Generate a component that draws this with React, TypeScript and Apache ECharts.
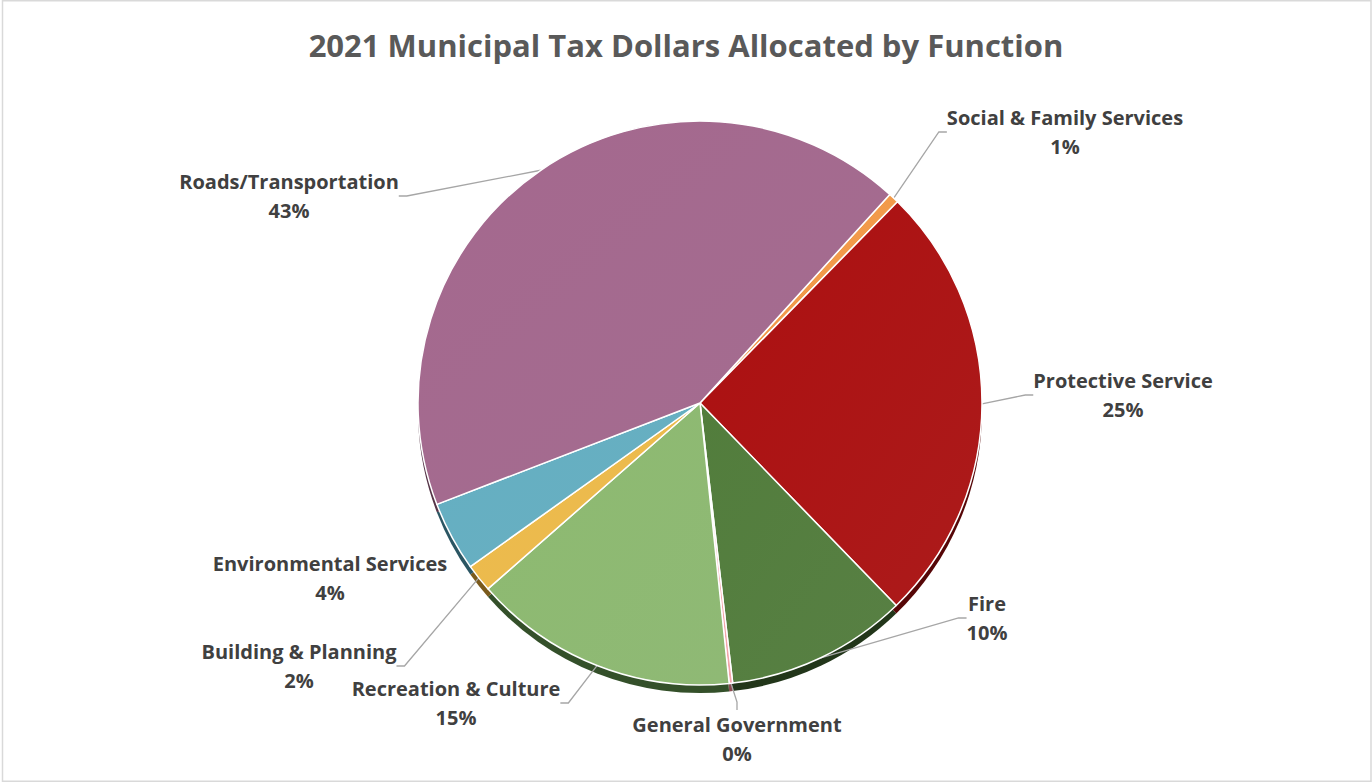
import { useEffect, useRef } from "react";
import * as echarts from "echarts";

const titleText = "2021 Municipal Tax Dollars Allocated by Function";

const categories = [
  "Social & Family Services",
  "Protective Service",
  "Fire",
  "General Government",
  "Recreation & Culture",
  "Building & Planning",
  "Environmental Services",
  "Roads/Transportation",
];

// share of tax dollars, percent
const shares = [0.6, 25.4, 10.4, 0.2, 15.2, 1.6, 4.0, 42.6];

// styles (kept apart from data)
const sliceColors = ["#ef9645", "#a80f10", "#507a3b", "#f2a0a6", "#8ab66e", "#e9b748", "#62abbe", "#a0668b"];
const rimColors = ["#8a5020", "#560607", "#22361a", "#8a4a50", "#34502a", "#7a5a1c", "#2b5663", "#553447"];
const labelCenters: Record<string, [number, number]> = {
  "Social & Family Services": [1065, 132],
  "Protective Service": [1123, 395],
  "Fire": [987, 618],
  "General Government": [737, 739],
  "Recreation & Culture": [456, 703],
  "Building & Planning": [299, 666],
  "Environmental Services": [330, 578],
  "Roads/Transportation": [289, 196],
};
const noLeader = new Set(["Environmental Services"]);

const FONT = "Open Sans";

export default function App() {
  const ref = useRef<HTMLDivElement>(null);
  useEffect(() => {
    document.body.style.margin = "0";
    if (!ref.current) return;
    const chart = echarts.init(ref.current, undefined, { renderer: "svg" });
    const mainData = categories.map((name, i) => ({
      name,
      value: shares[i],
      itemStyle: {
        color: new echarts.graphic.LinearGradient(0, 0, 1, 1, [
          { offset: 0, color: echarts.color.lift(sliceColors[i], -0.025) },
          { offset: 1, color: echarts.color.lift(sliceColors[i], 0.05) },
        ]),
      },
      labelLine: { show: !noLeader.has(name) },
    }));
    const rimData = categories.map((name, i) => ({
      name,
      value: shares[i],
      itemStyle: { color: rimColors[i] },
    }));
    chart.setOption({
      animation: false,
      backgroundColor: "#ffffff",
      title: {
        text: titleText,
        left: "center",
        top: 22,
        textStyle: {
          fontFamily: FONT,
          fontWeight: "bold",
          fontSize: 31,
          lineHeight: 36,
          color: "#595959",
        },
      },
      graphic: [
        {
          type: "rect",
          shape: { x: 2.5, y: 0.75, width: 1368.5, height: 780.5 },
          style: { fill: "none", stroke: "#d9d9d9", lineWidth: 1.5 },
          silent: true,
        },
      ],
      series: [
        {
          type: "pie",
          z: 1,
          silent: true,
          center: [700, 411],
          radius: 282,
          startAngle: 47.7,
          clockwise: true,
          data: rimData,
          label: { show: false },
          labelLine: { show: false },
          itemStyle: { borderWidth: 0 },
          emphasis: { disabled: true },
        },
        {
          type: "pie",
          z: 2,
          center: [700, 403],
          radius: 282,
          startAngle: 47.7,
          clockwise: true,
          avoidLabelOverlap: false,
          data: mainData,
          itemStyle: { borderColor: "#ffffff", borderWidth: 1.5 },
          emphasis: { disabled: true },
          label: {
            show: true,
            position: "outside",
            formatter: (p: any) => `${p.name}\n${Math.round(p.percent)}%`,
            fontFamily: FONT,
            fontWeight: "bold",
            fontSize: 20,
            lineHeight: 29,
            color: "#404040",
            align: "center",
          },
          labelLine: {
            show: true,
            length: 12,
            length2: 8,
            lineStyle: { color: "#a6a6a6", width: 1.3 },
          },
          labelLayout: (params: any) => {
            const c = labelCenters[categories[params.dataIndex]];
            return { x: c[0], y: c[1], align: "center", verticalAlign: "middle" };
          },
        },
      ],
    });
    return () => chart.dispose();
  }, []);
  return <div ref={ref} style={{ width: 1372, height: 783 }} />;
}
